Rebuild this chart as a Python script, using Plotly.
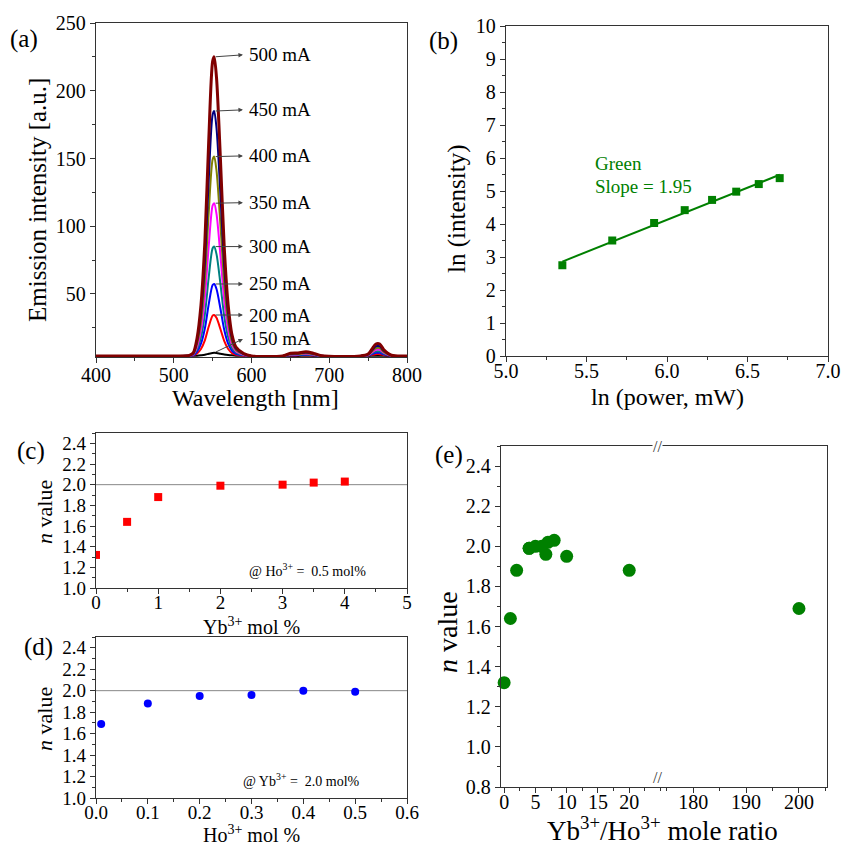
"""Upconversion emission panels: spectra vs current, ln-ln slope, n value vs dopant."""

import numpy as np
import plotly.graph_objects as go

W, H = 843, 846
FONT = "Liberation Serif"
AXIS_COLOR = "#333333"

# (a) emission spectra at different pump currents
wavelength = [400, 500, 520, 525, 530, 535, 540, 545, 550, 552, 555, 560, 565, 570, 575, 580, 590,
              600, 640, 650, 660, 670, 680, 690, 740, 750, 755, 760, 765, 770, 780, 800]
i150 = [4.3, 4.3, 4.3, 4.35, 4.5, 4.8, 5.2, 5.9, 6.5, 6.6, 6.4, 5.9, 5.4, 5.0, 4.7, 4.5, 4.35,
        4.3, 4.3, 4.3, 4.3, 4.4, 4.3, 4.3, 4.3, 4.3, 4.4, 4.5, 4.5, 4.4, 4.3, 4.3]
i200 = [4.3, 4.3, 4.4, 4.6, 6.1, 9.4, 15.8, 26.0, 34.0, 34.5, 32.4, 24.2, 15.2, 9.4, 6.4, 5.2, 4.5,
        4.3, 4.3, 4.6, 4.7, 4.8, 4.6, 4.3, 4.3, 4.5, 5.1, 5.6, 5.6, 5.0, 4.4, 4.3]
i250 = [4.3, 4.3, 4.4, 4.8, 7.5, 13.3, 24.5, 42.5, 56.6, 57.4, 53.7, 39.3, 23.4, 13.3, 8.0, 5.9, 4.7,
        4.3, 4.3, 4.8, 4.9, 5.1, 4.8, 4.3, 4.3, 4.7, 5.6, 6.6, 6.6, 5.5, 4.4, 4.3]
i300 = [4.3, 4.3, 4.5, 5.1, 9.1, 18.0, 35.0, 62.4, 83.8, 85.0, 79.4, 57.6, 33.4, 18.0, 9.9, 6.7, 4.9,
        4.3, 4.3, 5.0, 5.1, 5.5, 5.0, 4.3, 4.3, 4.8, 6.2, 7.6, 7.6, 6.1, 4.5, 4.3]
i350 = [4.3, 4.3, 4.5, 5.4, 11.1, 23.5, 47.1, 85.4, 115.3, 117.0, 109.1, 78.7, 44.9, 23.5, 12.2, 7.7, 5.2,
        4.3, 4.3, 5.3, 5.4, 5.9, 5.3, 4.4, 4.3, 5.0, 6.9, 8.9, 8.9, 6.7, 4.5, 4.3]
i400 = [4.3, 4.3, 4.6, 5.8, 13.1, 29.3, 60.2, 110.2, 149.2, 151.4, 141.1, 101.4, 57.3, 29.3, 14.6, 8.7, 5.5,
        4.3, 4.3, 5.5, 5.7, 6.3, 5.5, 4.4, 4.3, 5.2, 7.6, 10.0, 10.0, 7.3, 4.6, 4.3]
i450 = [4.3, 4.3, 4.7, 6.1, 15.1, 35.0, 73.0, 134.4, 182.3, 185.0, 172.4, 123.6, 69.4, 35.0, 17.0, 9.7, 5.7,
        4.3, 4.3, 5.8, 6.1, 6.8, 5.8, 4.4, 4.3, 5.4, 8.4, 11.4, 11.4, 8.1, 4.7, 4.3]
i500 = [4.3, 4.3, 4.7, 6.5, 17.5, 41.8, 88.2, 163.2, 221.7, 225.0, 209.6, 150.0, 83.8, 41.8, 19.7, 10.9, 6.1,
        4.3, 4.3, 6.2, 6.5, 7.4, 6.2, 4.5, 4.3, 5.7, 9.4, 13.1, 13.1, 9.0, 4.8, 4.3]
currents = ["150 mA", "200 mA", "250 mA", "300 mA", "350 mA", "400 mA", "450 mA", "500 mA"]
spectra = [i150, i200, i250, i300, i350, i400, i450, i500]
spectra_colors = ["#000000", "#FF0000", "#0000FF", "#008080", "#FF00FF", "#808000", "#000080", "#800000"]

# (b) ln-ln power dependence, green band
ln_power = [5.35, 5.66, 5.92, 6.11, 6.28, 6.43, 6.57, 6.70]
ln_intensity = [2.75, 3.50, 4.03, 4.42, 4.73, 4.98, 5.21, 5.39]

# (c) n value vs Yb3+ (Ho3+ = 0.5 mol%)
yb_mol = [0, 0.5, 1, 2, 3, 3.5, 4]
n_yb = [1.32, 1.64, 1.88, 1.99, 2.00, 2.02, 2.03]

# (d) n value vs Ho3+ (Yb3+ = 2.0 mol%)
ho_mol = [0.01, 0.1, 0.2, 0.3, 0.4, 0.5]
n_ho = [1.69, 1.88, 1.95, 1.96, 2.00, 1.99]

# (e) n value vs Yb3+/Ho3+ ratio
ratio = [0, 1, 2, 4, 6, 7, 8, 4, 5, 6.67, 10, 20, 200]
n_ratio = [1.32, 1.64, 1.88, 1.99, 2.00, 2.02, 2.03, 1.99, 2.00, 1.96, 1.95, 1.88, 1.69]


def px_x(px):
    return px / W


def px_y(px):
    return 1 - px / H


def axis(dom, rng, dtick, minor_dtick, anchor, size=20, **kw):
    base = dict(
        domain=dom, range=rng, dtick=dtick, anchor=anchor, automargin=False,
        showline=True, linecolor=AXIS_COLOR, linewidth=1.3, mirror=True,
        ticks="outside", ticklen=5, tickwidth=1.2, tickcolor=AXIS_COLOR,
        minor=dict(dtick=minor_dtick, ticks="outside", ticklen=3, tickwidth=1, tickcolor=AXIS_COLOR),
        showgrid=False, zeroline=False,
        tickfont=dict(family=FONT, size=size, color="black"),
    )
    base.update(kw)
    return base


fig = go.Figure()

# (a) spectra
for name, vals, color in zip(currents, spectra, spectra_colors):
    fig.add_trace(go.Scatter(
        x=wavelength, y=vals, name=name, mode="lines",
        line=dict(color=color, width=3 if name == "500 mA" else 2, shape="spline", smoothing=0.8),
        xaxis="x", yaxis="y",
    ))

label_y = [16.8, 34.5, 57.4, 85.0, 117.4, 151.9, 185.9, 226.5]
annotations = []
for name, vals, ly in zip(currents, spectra, label_y):
    k = int(np.argmax(vals))
    annotations.append(dict(
        x=589, y=ly, xref="x", yref="y", ax=wavelength[k], ay=vals[k], axref="x", ayref="y",
        text="", showarrow=True, arrowhead=2, arrowsize=0.9, arrowwidth=1, arrowcolor="#444444",
    ))
    annotations.append(dict(
        x=594, y=ly, xref="x", yref="y", text=name, showarrow=False, xanchor="left",
        font=dict(family=FONT, size=19, color="black"),
    ))

# (b) ln-ln plot with linear fit
slope, intercept = np.polyfit(ln_power, ln_intensity, 1)
fit_x = [min(ln_power), max(ln_power)]
fig.add_trace(go.Scatter(
    x=fit_x, y=[slope * v + intercept for v in fit_x], mode="lines",
    line=dict(color="#008000", width=2), xaxis="x2", yaxis="y2",
))
fig.add_trace(go.Scatter(
    x=ln_power, y=ln_intensity, mode="markers",
    marker=dict(symbol="square", size=8, color="#008000"), xaxis="x2", yaxis="y2",
))
annotations += [
    dict(x=5.54, y=5.83, xref="x2", yref="y2", text="Green", showarrow=False, xanchor="left",
         font=dict(family=FONT, size=19, color="#008000")),
    dict(x=5.54, y=5.13, xref="x2", yref="y2", text="Slope = 1.95", showarrow=False, xanchor="left",
         font=dict(family=FONT, size=19, color="#008000")),
]

# (c) and (d)
fig.add_trace(go.Scatter(
    x=yb_mol, y=n_yb, mode="markers",
    marker=dict(symbol="square", size=8, color="#FF0000"), xaxis="x3", yaxis="y3",
))
fig.add_trace(go.Scatter(
    x=ho_mol, y=n_ho, mode="markers",
    marker=dict(symbol="circle", size=8, color="#0000FF"), xaxis="x4", yaxis="y4",
))
shapes = [
    dict(type="line", xref="x3 domain", yref="y3", x0=0, x1=1, y0=2.0, y1=2.0,
         line=dict(color="#888888", width=1), layer="below"),
    dict(type="line", xref="x4 domain", yref="y4", x0=0, x1=1, y0=2.0, y1=2.0,
         line=dict(color="#888888", width=1), layer="below"),
]
annotations += [
    dict(x=2.42, y=1.178, xref="x3", yref="y3", text="@ Ho<sup>3+</sup> =  0.5 mol%",
         showarrow=False, xanchor="left", font=dict(family=FONT, size=14, color="black")),
    dict(x=0.279, y=1.165, xref="x4", yref="y4", text="@ Yb<sup>3+</sup> =  2.0 mol%",
         showarrow=False, xanchor="left", font=dict(family=FONT, size=14, color="black")),
]

# (e) broken x axis
left = [(r, n) for r, n in zip(ratio, n_ratio) if r <= 25]
right = [(r, n) for r, n in zip(ratio, n_ratio) if r > 25]
fig.add_trace(go.Scatter(
    x=[p[0] for p in left], y=[p[1] for p in left], mode="markers", cliponaxis=False,
    marker=dict(symbol="circle", size=13, color="#008000"), xaxis="x5", yaxis="y5",
))
fig.add_trace(go.Scatter(
    x=[p[0] for p in right], y=[p[1] for p in right], mode="markers", cliponaxis=False,
    marker=dict(symbol="circle", size=13, color="#008000"), xaxis="x6", yaxis="y6",
))
brk = px_x(663)
for yy in (px_y(446), px_y(787)):
    annotations.append(dict(
        x=brk, y=yy, xref="paper", yref="paper", text="//", showarrow=False,
        bgcolor="white", borderpad=0, font=dict(family=FONT, size=16, color=AXIS_COLOR),
    ))


# panel labels and axis titles
def label(text, x, y, size=25, angle=0):
    return dict(x=px_x(x), y=px_y(y), xref="paper", yref="paper", text=text, showarrow=False,
                textangle=angle, xanchor="center", yanchor="middle",
                font=dict(family=FONT, size=size, color="black"))


annotations += [
    label("(a)", 24, 39), label("(b)", 443, 41), label("(c)", 31, 451),
    label("(d)", 38, 647), label("(e)", 449, 455),
    label("Emission intensity [a.u.]", 37, 200, 25, -90),
    label("Wavelength [nm]", 255, 398, 24),
    label("ln (intensity)", 457, 209, 25, -90),
    label("ln (power, mW)", 667, 397, 24),
    label("<i>n</i> value", 44, 512, 22, -90),
    label("Yb<sup>3+</sup> mol %", 252, 626, 20),
    label("<i>n</i> value", 44, 719, 22, -90),
    label("Ho<sup>3+</sup> mol %", 252, 834, 20),
    label("<i>n</i> value", 447, 632, 28, -90),
    label("Yb<sup>3+</sup>/Ho<sup>3+</sup> mole ratio", 662, 829, 27),
]

n_ticks = [1.0, 1.2, 1.4, 1.6, 1.8, 2.0, 2.2, 2.4]
ax_ac = [px_x(96), px_x(407)]
fig.update_layout(
    template="none",
    width=W, height=H, margin=dict(l=0, r=0, t=0, b=0, autoexpand=False),
    paper_bgcolor="white", plot_bgcolor="white", showlegend=False,
    font=dict(family=FONT, color="black"),
    xaxis=axis(ax_ac, [400, 800], 100, 50, "y", ticklabelstandoff=-5),
    yaxis=axis([px_y(357), px_y(23)], [3.5, 250], 50, 25, "x"),
    xaxis2=axis([px_x(506), px_x(828)], [5.0, 7.0], 0.5, 0.25, "y2", tickformat=".1f",
                ticklabelstandoff=-8),
    yaxis2=axis([px_y(356), px_y(26)], [0, 10], 1, 0.5, "x2"),
    xaxis3=axis(ax_ac, [0, 5], 1, 0.5, "y3", 19, ticklabelstandoff=-8),
    yaxis3=axis([px_y(588), px_y(433)], [1.0, 2.5], 0.2, 0.1, "x3", 19, tickformat=".1f",
                tickvals=n_ticks),
    xaxis4=axis(ax_ac, [0, 0.6], 0.1, 0.05, "y4", 19, tickformat=".1f", ticklabelstandoff=-8),
    yaxis4=axis([px_y(798), px_y(637)], [1.0, 2.5], 0.2, 0.1, "x4", 19, tickformat=".1f",
                tickvals=n_ticks),
    xaxis5=axis([px_x(501), brk], [-0.5, 25.4], 5, 2.5, "y5", tickvals=[0, 5, 10, 15, 20],
                ticklabelstandoff=-8),
    yaxis5=axis([px_y(787), px_y(446)], [0.8, 2.5], 0.2, 0.1, "x5", tickformat=".1f",
                mirror=False, tickvals=[0.8] + n_ticks),
    xaxis6=axis([brk, px_x(827)], [174.3, 205.3], 10, 5, "y6", tick0=180, ticklabelstandoff=-8),
    yaxis6=axis([px_y(787), px_y(446)], [0.8, 2.5], 0.2, 0.1, "x6", side="right", mirror=False,
                ticks="", showticklabels=False, minor=dict(ticks="")),
    shapes=shapes,
    annotations=annotations,
)

fig.write_html(
    "out.html",
    config={"displayModeBar": False},
    post_script="document.body.style.margin='0';document.body.style.overflow='hidden';",
)
